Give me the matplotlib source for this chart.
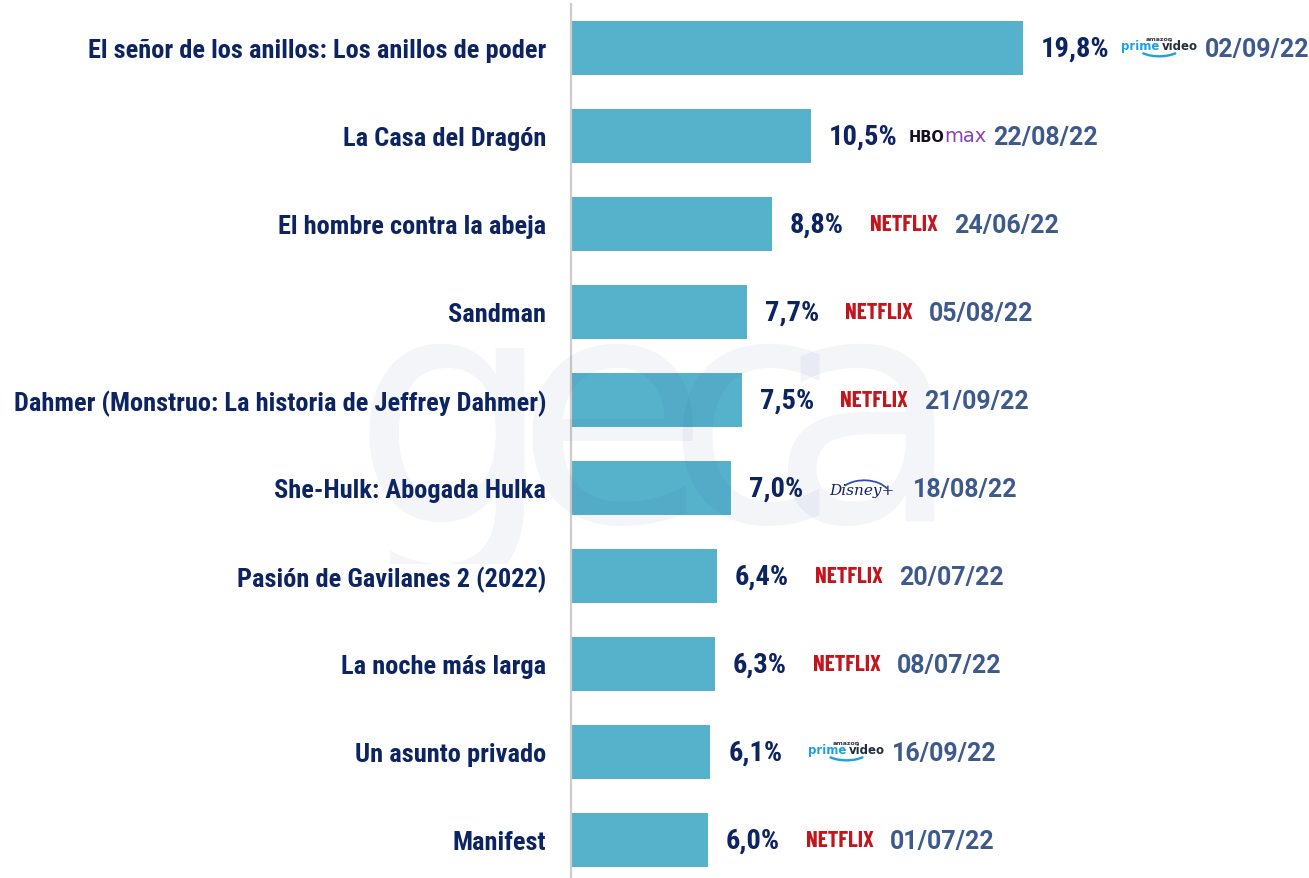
import matplotlib
matplotlib.use("Agg")
import matplotlib.pyplot as plt
from matplotlib.offsetbox import TextArea, HPacker, VPacker, DrawingArea, AnnotationBbox
from matplotlib.patches import Arc
from matplotlib.transforms import Bbox

titles = [
    "El señor de los anillos: Los anillos de poder",
    "La Casa del Dragón",
    "El hombre contra la abeja",
    "Sandman",
    "Dahmer (Monstruo: La historia de Jeffrey Dahmer)",
    "She-Hulk: Abogada Hulka",
    "Pasión de Gavilanes 2 (2022)",
    "La noche más larga",
    "Un asunto privado",
    "Manifest",
]
shares = [19.8, 10.5, 8.8, 7.7, 7.5, 7.0, 6.4, 6.3, 6.1, 6.0]
platforms = ["prime", "hbomax", "netflix", "netflix", "netflix", "disney",
             "netflix", "netflix", "prime", "netflix"]
dates = ["02/09/22", "22/08/22", "24/06/22", "05/08/22", "21/09/22",
         "18/08/22", "20/07/22", "08/07/22", "16/09/22", "01/07/22"]

COND = ["Roboto Condensed", "DejaVu Sans"]
NARROW = ["Barlow Condensed", "Roboto Condensed", "DejaVu Sans"]
DATEF = ["Roboto", "DejaVu Sans"]

BAR = "#56b1cb"
NAVY = "#0c2461"
DATEC = "#3e5a8c"

W, H = 1309, 879
fig = plt.figure(figsize=(W / 100, H / 100), dpi=100)
ax_left = 571 / W
ax = fig.add_axes([ax_left, (H - 885) / H, 1 - ax_left, 880 / H])

n = len(titles)
ypos = list(range(n))
ax.barh(ypos, shares, height=0.62, color=BAR, zorder=2)
ax.set_ylim(n - 0.5, -0.5)
ax.set_xlim(0, 738 / 22.83)

for s in ["top", "right", "bottom"]:
    ax.spines[s].set_visible(False)
ax.spines["left"].set_color("#cccccc")
ax.spines["left"].set_linewidth(1.6)
ax.set_xticks([])
ax.set_yticks(ypos)
ax.set_yticklabels(titles, family=COND, fontweight="bold", fontsize=19, color=NAVY)
ax.tick_params(axis="y", length=0, pad=18)

PX = 0.72  # points per pixel


def logo_box(kind):
    if kind == "netflix":
        return TextArea("NETFLIX", textprops=dict(family=NARROW, fontweight="bold",
                                                  fontsize=16.5, color="#c1161d"))
    if kind == "hbomax":
        a = TextArea("HBO", textprops=dict(family="DejaVu Sans", fontweight="heavy",
                                           fontsize=10.5, color="#15101e"))
        b = TextArea("max", textprops=dict(family="DejaVu Sans", fontweight="normal",
                                           fontsize=14, color="#8b3fc0"))
        return HPacker(children=[a, b], pad=0, sep=0, align="baseline")
    if kind == "prime":
        top = TextArea("amazon", textprops=dict(family="DejaVu Sans", fontweight="bold",
                                                fontsize=4.5, color="#333e48"))
        p = TextArea("prime", textprops=dict(family="DejaVu Sans", fontweight="bold",
                                             fontsize=8.5, color="#1ba1e2"))
        v = TextArea("video", textprops=dict(family="DejaVu Sans", fontweight="bold",
                                             fontsize=8.5, color="#232f3e"))
        mid = HPacker(children=[p, v], pad=0, sep=1.5, align="baseline")
        da = DrawingArea(30, 7, 0, 0)
        da.add_artist(Arc((15, 11), 34, 16, theta1=205, theta2=335, color="#1ba1e2", lw=1.7))
        return VPacker(children=[top, mid, da], pad=0, sep=-1, align="center")
    if kind == "disney":
        da = DrawingArea(40, 7, 0, 0)
        da.add_artist(Arc((22, -6), 38, 24, theta1=20, theta2=150, color="#2f4fb0", lw=1.3))
        t = TextArea("Disney+", textprops=dict(family="DejaVu Serif", fontstyle="italic",
                                               fontsize=11, color="#10206a"))
        return VPacker(children=[da, t], pad=0, sep=-4, align="center")


for i, (v, plat, d) in enumerate(zip(shares, platforms, dates)):
    ax.annotate(f"{v:.1f}%".replace(".", ","), xy=(v, i), xytext=(18 * PX, 0),
                textcoords="offset points", ha="left", va="center",
                family=COND, fontweight="bold", fontsize=20.5, color=NAVY, zorder=5)
    box = logo_box(plat)
    ab = AnnotationBbox(box, (v, i), xybox=(98 * PX, 0), xycoords="data",
                        boxcoords="offset points", box_alignment=(0, 0.5),
                        frameon=False, pad=0, zorder=5)
    ax.add_artist(ab)
    ax.annotate(d, xy=(v, i), xytext=(182 * PX, -1),
                textcoords="offset points", ha="left", va="center",
                family=DATEF, fontweight="bold", fontsize=18, color=DATEC, zorder=5)

# faint "geca" watermark
wm_letters = ["g", "e", "c", "a"]
wm_x = [452, 612, 752, 866]
clip = Bbox.from_extents(0, H - 565, W, H - 330)
for ch, x in zip(wm_letters, wm_x):
    t = fig.text(x / W, 1 - 522 / H, ch, ha="center", va="baseline",
                 family="DejaVu Sans", fontweight="normal", fontsize=228,
                 color="#1f3c8c", alpha=0.05, zorder=10)
    t.set_clip_box(clip)
    t.set_clip_on(True)

fig.savefig("out.png", dpi=100)
